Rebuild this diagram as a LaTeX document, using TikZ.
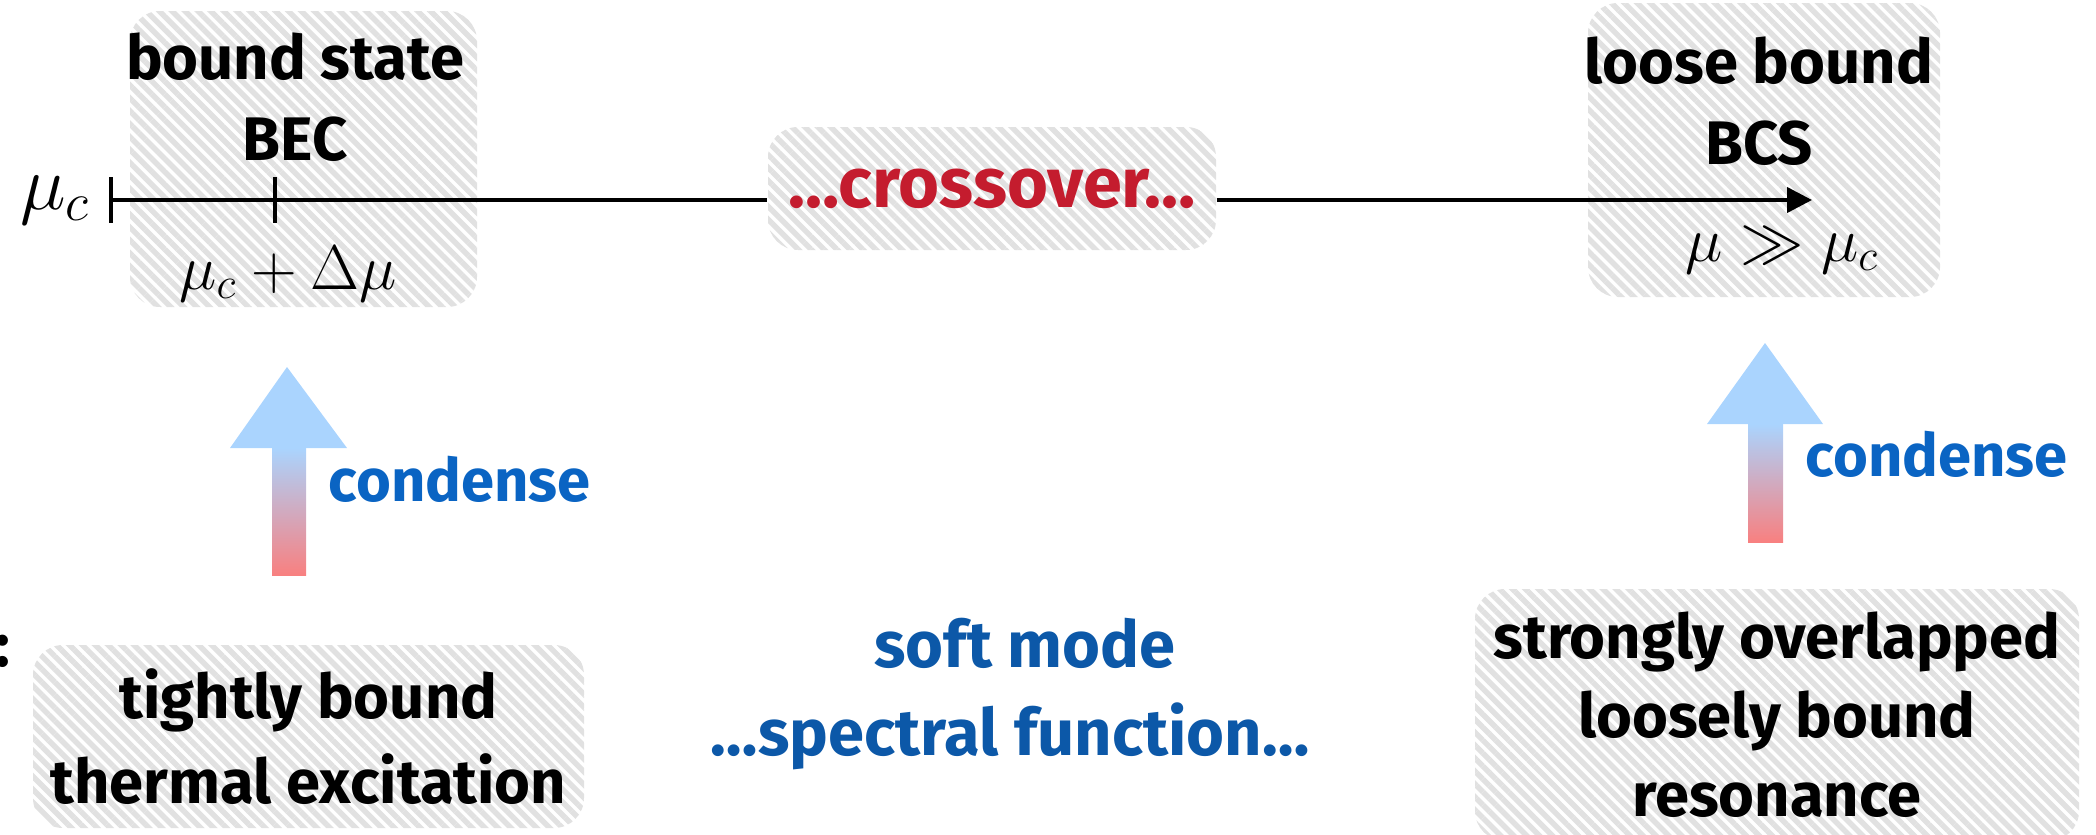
\RequirePackage{fix-cm}
\documentclass[tikz,border=0pt]{standalone}
\usepackage[no-math]{fontspec}
\setmainfont{Fira Sans}
\usepackage{amsmath}
\usepackage{tikz}
\usetikzlibrary{arrows.meta,patterns.meta,positioning}

\definecolor{crossred}{RGB}{196,28,46}
\definecolor{condblue}{RGB}{10,100,195}
\definecolor{softblue}{RGB}{12,88,168}
\definecolor{hatchgray}{RGB}{225,225,225}
\definecolor{arrowtop}{RGB}{170,212,254}
\definecolor{arrowmid}{RGB}{196,186,218}
\definecolor{arrowbot}{RGB}{248,128,128}

\begin{document}
\begin{tikzpicture}
	\def \axisy{-2.0}
	\def \headbase{-4.48}
	\def \headbaser{-4.24}

	\tikzstyle{hatch}=[rounded corners=0.3cm,preaction={fill=white},pattern={Lines[angle=-45,distance=2.6pt,line width=1.55pt]},pattern color=hatchgray,inner sep=0pt]
	\tikzstyle{word}=[font=\fontsize{17.5}{23}\selectfont\bfseries,align=center,inner sep=0pt]
	\tikzstyle{blueword}=[word,font=\fontsize{17}{23}\selectfont\bfseries,text=condblue]
	\tikzstyle{mathlabel}=[font=\fontsize{18}{20}\selectfont,inner sep=0pt]
	\tikzstyle{axisline}=[line width=1.2pt]
	\tikzstyle{upshaft}=[top color=arrowtop,middle color=arrowmid,bottom color=arrowbot]

	\useasboundingbox (0,0) rectangle (20.96,-8.34);

	% regimes on the axis
	\node[hatch,minimum width=3.47cm,minimum height=2.96cm] (becbox) at (3.035,-1.59) {};
	\node[hatch,minimum width=3.52cm,minimum height=2.94cm] (bcsbox) at (17.64,-1.50) {};
	\node[word,anchor=base] (bec) at (2.95,-1.60) {bound state\\BEC};
	\node[word,anchor=base] (bcs) at (17.59,-1.64) {loose bound\\BCS};

	% the axis
	\coordinate (mu0) at (1.11,\axisy);
	\coordinate (mu1) at (2.75,\axisy);
	\coordinate (muinf) at (18.12,\axisy);
	\node[hatch,word,font=\fontsize{20}{24}\selectfont\bfseries,text=crossred,minimum width=4.48cm,minimum height=1.23cm] (cross) at (9.92,-1.885) {…crossover…};
	\draw[axisline] (mu0) -- (mu0 -| cross.west);
	\draw[axisline,-{Triangle[length=0.25cm,width=0.25cm]}] (mu0 -| cross.east) -- (muinf);
	\draw[axisline] ([yshift=0.23cm]mu0) -- ([yshift=-0.23cm]mu0);
	\draw[axisline] ([yshift=0.23cm]mu1) -- ([yshift=-0.23cm]mu1);

	\node[mathlabel,font=\fontsize{22}{24}\selectfont,left=0.2cm of mu0] (muc) {$\mu_c$};
	\node[mathlabel,anchor=base] (mudelta) at (2.88,-2.89) {$\mu_c+\Delta\mu$};
	\node[mathlabel,anchor=base] (mugg) at (17.82,-2.61) {$\mu\gg\mu_c$};

	% condense arrows
	\fill[arrowtop] (2.30,\headbase) -- (2.87,-3.67) -- (3.47,\headbase) -- cycle;
	\shade[upshaft] (2.72,-5.75) rectangle (3.06,\headbase);
	\node[blueword,anchor=west] (cond1) at (3.28,-4.79) {condense};

	\fill[arrowtop] (17.07,\headbaser) -- (17.65,-3.43) -- (18.23,\headbaser) -- cycle;
	\shade[upshaft] (17.48,-5.42) rectangle (17.83,\headbaser);
	\node[blueword,anchor=west] (cond2) at (18.05,-4.54) {condense};

	% lower row
	\node[word,anchor=east] (colon) at (0.11,-6.51) {:};
	\node[hatch,word,font=\fontsize{17.5}{24}\selectfont\bfseries,minimum width=5.51cm,minimum height=1.83cm] (thermal) at (3.085,-7.365) {tightly bound\\thermal excitation};
	\node[blueword,text=softblue,font=\fontsize{18.5}{25}\selectfont\bfseries] (soft) at (10.1,-6.94) {\hspace*{0.3cm}soft mode\\…spectral function…};
	\node[hatch,word,font=\fontsize{17.5}{22.5}\selectfont\bfseries,minimum width=6.04cm,minimum height=2.52cm] (reson) at (17.77,-7.15) {strongly overlapped\\loosely bound\\resonance};
\end{tikzpicture}
\end{document}
